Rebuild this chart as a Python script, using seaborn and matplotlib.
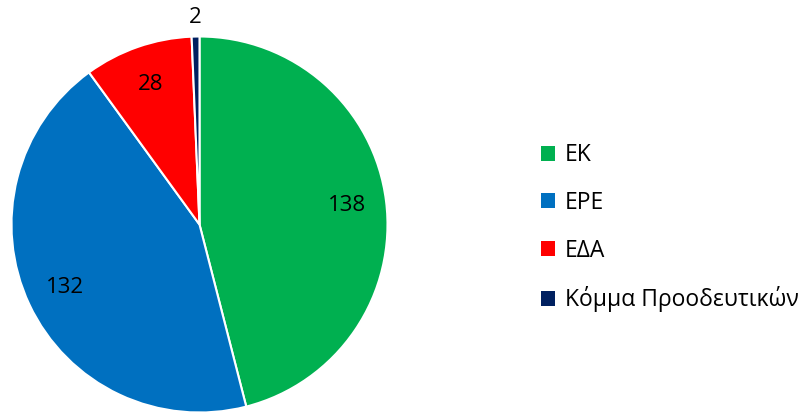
import numpy as np
import matplotlib.pyplot as plt
import seaborn as sns
from matplotlib.patches import Patch

parties = ["ΕΚ", "ΕΡΕ", "ΕΔΑ", "Κόμμα Προοδευτικών"]
seats = [138, 132, 28, 2]
colors = ["#00B050", "#0070C0", "#FF0000", "#002060"]

sns.set_theme(style="white")
plt.rcParams['font.family'] = ['Open Sans', 'DejaVu Sans']
plt.rcParams['text.color'] = 'black'

fig = plt.figure(figsize=(8.05, 4.12), dpi=100)
ax = fig.add_axes([11.5 / 805, -0.5 / 412, 376 / 805, 376 / 412])

wedges, texts = ax.pie(seats, colors=colors, startangle=90, counterclock=False,
                       labels=[str(s) for s in seats], labeldistance=0.79,
                       wedgeprops=dict(edgecolor="white", linewidth=1.5),
                       textprops=dict(fontsize=16, color="black", ha="center", va="center"))
ax.set_xlim(-1, 1)
ax.set_ylim(-1, 1)
ax.set_aspect("equal")

# smallest slice label goes outside
w = wedges[-1]
mid = np.deg2rad((w.theta1 + w.theta2) / 2)
texts[-1].set_position((1.1 * np.cos(mid), 1.1 * np.sin(mid)))

handles = [Patch(facecolor=c, edgecolor="none") for c in colors]
fig.legend(handles, parties, loc="center left", bbox_to_anchor=(541 / 805, 0.447),
           frameon=False, fontsize=16.5, handlelength=0.63, handleheight=0.63,
           handletextpad=0.4, labelspacing=1.03, borderpad=0, borderaxespad=0,
           labelcolor="black")

fig.savefig("out.png", dpi=100)
